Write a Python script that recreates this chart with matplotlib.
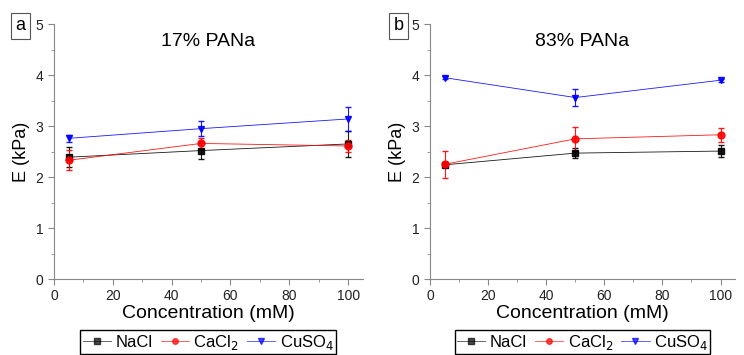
import matplotlib.pyplot as plt
from matplotlib.lines import Line2D

plt.rcParams['font.family'] = ['Liberation Sans', 'DejaVu Sans']

conc = [5, 50, 100]

# panel a: 17% PANa
a_nacl = [2.39, 2.52, 2.65]
a_nacl_err = [0.2, 0.17, 0.25]
a_cacl2 = [2.33, 2.66, 2.61]
a_cacl2_err = [0.2, 0.1, 0.12]
a_cuso4 = [2.76, 2.95, 3.14]
a_cuso4_err = [0.07, 0.15, 0.24]

# panel b: 83% PANa
b_nacl = [2.24, 2.47, 2.51]
b_nacl_err = [0.05, 0.1, 0.12]
b_cacl2 = [2.25, 2.75, 2.83]
b_cacl2_err = [0.27, 0.23, 0.14]
b_cuso4 = [3.95, 3.56, 3.90]
b_cuso4_err = [0.03, 0.16, 0.03]

panels = [
    ("a", "17% PANa", [a_nacl, a_cacl2, a_cuso4], [a_nacl_err, a_cacl2_err, a_cuso4_err]),
    ("b", "83% PANa", [b_nacl, b_cacl2, b_cuso4], [b_nacl_err, b_cacl2_err, b_cuso4_err]),
]
names = ["NaCl", "CaCl$_2$", "CuSO$_4$"]
colors = ["black", "red", "blue"]
markers = ["s", "o", "v"]

fig = plt.figure(figsize=(7.44, 3.55), dpi=100)
boxes = [[0.0726, 0.214, 0.415, 0.718], [0.578, 0.214, 0.41, 0.718]]
spine_col = "#888888"

for i, (tag, title, ys, errs) in enumerate(panels):
    ax = fig.add_axes(boxes[i])
    handles = []
    for y, e, c, m, n in zip(ys, errs, colors, markers, names):
        ax.errorbar(conc, y, yerr=e, color=c, marker=m, markersize=5, lw=0.6,
                    elinewidth=0.8, capsize=2, alpha=0.9)
        handles.append(Line2D([], [], color=c, marker=m, markersize=4, lw=0.6,
                              alpha=0.7, label=n))
    ax.set_xlim(0, 105)
    ax.set_ylim(0, 5)
    ax.set_xticks([0, 20, 40, 60, 80, 100])
    ax.set_xticks(range(10, 101, 20), minor=True)
    ax.set_yticks([0, 1, 2, 3, 4, 5])
    ax.set_yticks([0.5, 1.5, 2.5, 3.5, 4.5], minor=True)
    for s in ["top", "right"]:
        ax.spines[s].set_visible(False)
    for s in ["left", "bottom"]:
        ax.spines[s].set_color(spine_col)
    ax.tick_params(which="both", colors=spine_col, labelcolor="#222222", labelsize=10)
    ax.tick_params(which="major", length=4)
    ax.tick_params(which="minor", length=2)
    ax.set_xlabel("Concentration (mM)", fontsize=14, labelpad=1)
    ax.set_ylabel("E (kPa)", fontsize=13, labelpad=4)
    ax.text(0.5, 0.93, title, transform=ax.transAxes, ha="center", va="center", fontsize=14)
    fig.text(boxes[i][0] - 0.045 + (0.003 if i == 1 else 0), 0.928, tag, fontsize=13,
             ha="center", va="center",
             bbox=dict(boxstyle="square,pad=0.25", fc="white", ec="#555555", lw=0.8))
    ax.legend(handles=handles, loc="upper center", bbox_to_anchor=(0.5, -0.2), ncol=3,
              frameon=True, fancybox=False, edgecolor="black", fontsize=12,
              handlelength=1.7, columnspacing=0.5, handletextpad=0.25, borderpad=0.15,
              borderaxespad=0, framealpha=1)

fig.savefig("out.png", dpi=100)
